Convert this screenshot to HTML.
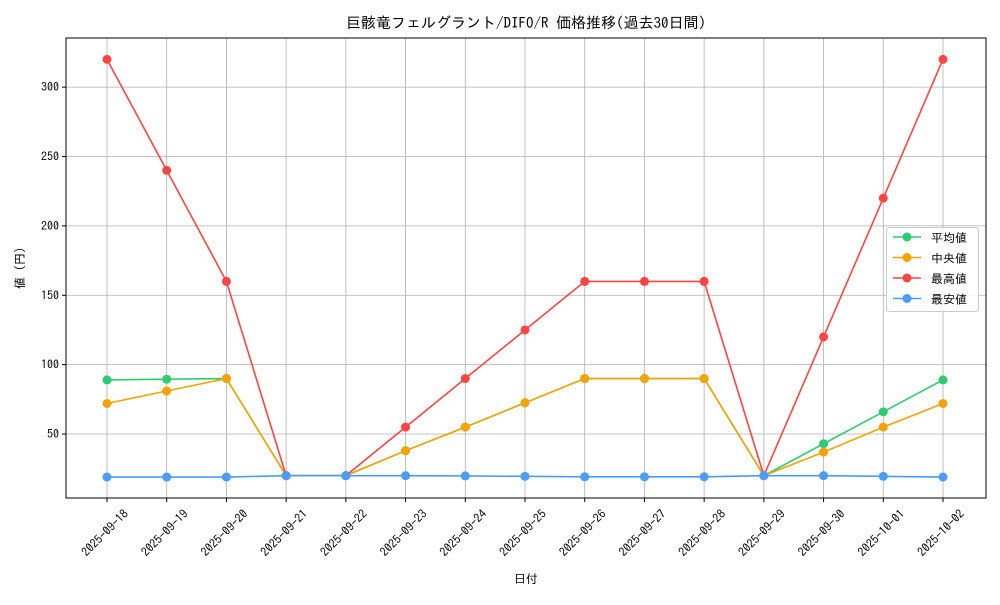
<!DOCTYPE html>
<html><head><meta charset="utf-8"><style>
body{margin:0;background:#fff;}
svg text{font-family:"IPAGothic","Liberation Sans","Noto Sans CJK JP",sans-serif;fill:#000;}
</style></head><body>
<svg id="chart" width="1000" height="600">
<rect width="1000" height="600" fill="#fff"/>
<g id="grid"></g><g id="series"></g><g id="axes"></g>
<text x="526" y="28" text-anchor="middle" font-size="15">巨骸竜フェルグラント/DIFO/R 価格推移(過去30日間)</text>
<text x="526" y="583" text-anchor="middle" font-size="12">日付</text>
<text x="24" y="268" text-anchor="middle" font-size="12" transform="rotate(-90 24 268)">値 (円)</text>
<g id="legend"></g>
</svg>
<script>
const categories=["2025-09-18","2025-09-19","2025-09-20","2025-09-21","2025-09-22","2025-09-23","2025-09-24","2025-09-25","2025-09-26","2025-09-27","2025-09-28","2025-09-29","2025-09-30","2025-10-01","2025-10-02"];
const avgValues=[89,89.5,90,20,20,38,55,72.5,90,90,90,20,43,66,89];
const medianValues=[72,81,90,20,20,38,55,72.5,90,90,90,20,37,55,72];
const maxValues=[320,240,160,20,20,55,90,125,160,160,160,20,120,220,320];
const minValues=[19,19,19,20,20,20,19.8,19.5,19.2,19.2,19.2,20,20,19.5,19];
const yTicks=[50,100,150,200,250,300];
const seriesNames=["平均値","中央値","最高値","最安値"];
const seriesColors=["#2ecc71","#f5a300","#ff4444","#4a9cff"];

const L=66,R=986,T=38,B=498;
const yMin=3.9,yMax=335.4;
const x=i=>107+i*(943-107)/(categories.length-1);
const y=v=>B-(v-yMin)/(yMax-yMin)*(B-T);
const NS="http://www.w3.org/2000/svg";
function mk(tag,attrs,parent,text){const e=document.createElementNS(NS,tag);for(const k in attrs)e.setAttribute(k,attrs[k]);if(text!==undefined)e.textContent=text;parent.appendChild(e);return e;}
const grid=document.getElementById('grid'),axes=document.getElementById('axes'),ser=document.getElementById('series'),leg=document.getElementById('legend');
categories.forEach((c,i)=>{
  const g=mk('line',{x1:x(i),x2:x(i),y1:T,y2:B,stroke:"#b0b0b0","stroke-width":0.8},grid);
  
  
  mk('line',{x1:x(i),x2:x(i),y1:B,y2:B+4,stroke:"#000"},axes);
  const cx=x(i)-2,cy=B+35;
  const t=mk('text',{x:cx,y:cy+4,"font-size":12,"text-anchor":"middle",transform:`rotate(-45 ${cx} ${cy})`},axes,c);
  
  
});
yTicks.forEach(v=>{
  const g=mk('line',{x1:L,x2:R,y1:y(v),y2:y(v),stroke:"#b0b0b0","stroke-width":0.8},grid);
  
  
  mk('line',{x1:L-4,x2:L,y1:y(v),y2:y(v),stroke:"#000"},axes);
  const t=mk('text',{x:L-7,y:y(v)+4,"font-size":12,"text-anchor":"end"},axes,v);
  
  
});
const frame=mk('rect',{x:L,y:T,width:R-L,height:B-T,fill:"none",stroke:"#000","stroke-width":1},axes);


const allSeries=[avgValues,medianValues,maxValues,minValues];
allSeries.forEach((vals,s)=>{
  const g=mk('g',{},ser);
  
  
  const p=mk('polyline',{points:vals.map((v,i)=>x(i)+","+y(v)).join(" "),fill:"none",stroke:seriesColors[s],"stroke-width":1.6},g);
  
  
  vals.forEach((v,i)=>{
    const c=mk('circle',{cx:x(i),cy:y(v),r:4.5,fill:seriesColors[s]},g);
    
    
  });
});
const lb=mk('rect',{x:886.5,y:227.5,width:92,height:84,rx:3,fill:"#fff",stroke:"#ccc","fill-opacity":0.85},leg);


seriesNames.forEach((n,s)=>{
  const ey=237+s*20.5;
  const g=mk('g',{},leg);
  
  
  mk('line',{x1:893,x2:921,y1:ey,y2:ey,stroke:seriesColors[s],"stroke-width":1.6},g);
  mk('circle',{cx:907,cy:ey,r:4.5,fill:seriesColors[s]},g);
  mk('text',{x:931,y:ey+5,"font-size":12},g,n);
});
</script>
</body></html>
